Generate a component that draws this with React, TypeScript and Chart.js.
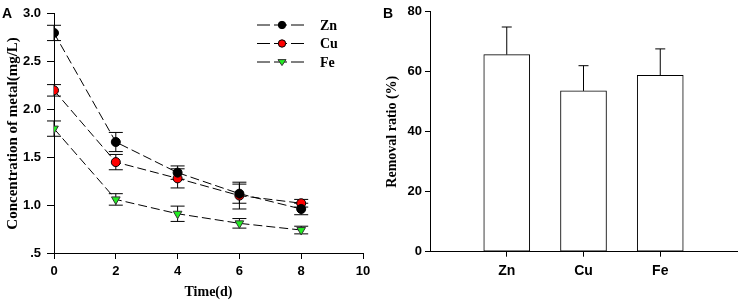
import React, { useEffect, useRef } from "react";
import { Chart, registerables } from "chart.js";

Chart.register(...registerables);

// ---- Panel A data ----
const timeDays = [0, 2, 4, 6, 8];
const znConc = [2.8, 1.66, 1.34, 1.12, 0.96];
const znErr = [0.08, 0.1, 0.07, 0.1, 0.06];
const cuConc = [2.2, 1.45, 1.28, 1.1, 1.02];
const cuErr = [0.06, 0.08, 0.1, 0.14, 0.04];
const feConc = [1.8, 1.06, 0.91, 0.81, 0.74];
const feErr = [0.08, 0.06, 0.08, 0.05, 0.04];
const seriesNames = ["Zn", "Cu", "Fe"];
const yTickLabelsA = [".5", "1.0", "1.5", "2.0", "2.5", "3.0"];

// ---- Panel B data ----
const metalCategories = ["", "Zn", "Cu", "Fe", ""];
const removalRatio = [null, 65.7, 53.6, 58.8, null];
const removalErr = [null, 9.2, 8.4, 8.8, null];

const SANS = "'Liberation Sans', Arial, sans-serif";
const SERIF = "'Liberation Serif', 'Times New Roman', serif";

const lineErrPlugin = {
  id: "lineErr",
  beforeDatasetsDraw(chart: any) {
    const ctx = chart.ctx;
    const xs = chart.scales.x;
    const ys = chart.scales.y;
    ctx.save();
    ctx.strokeStyle = "#000";
    ctx.lineWidth = 1;
    ctx.setLineDash([]);
    chart.data.datasets.forEach((ds: any) => {
      const errs: number[] = ds.errors;
      ds.data.forEach((p: any, i: number) => {
        const x = xs.getPixelForValue(p.x);
        const yT = ys.getPixelForValue(p.y + errs[i]);
        const yB = ys.getPixelForValue(p.y - errs[i]);
        ctx.beginPath();
        ctx.moveTo(x, yT);
        ctx.lineTo(x, yB);
        ctx.moveTo(x - 7, yT);
        ctx.lineTo(x + 7, yT);
        ctx.moveTo(x - 7, yB);
        ctx.lineTo(x + 7, yB);
        ctx.stroke();
      });
    });
    ctx.restore();
  },
  afterDraw(chart: any) {
    const ctx = chart.ctx;
    ctx.save();
    ctx.fillStyle = "#000";
    ctx.font = `bold 14px ${SANS}`;
    ctx.textBaseline = "alphabetic";
    ctx.textAlign = "left";
    ctx.fillText("A", 2, 18);
    // legend
    chart.data.datasets.forEach((ds: any, i: number) => {
      const y = 25 + i * 18.5;
      ctx.strokeStyle = "#000";
      ctx.lineWidth = 1;
      ctx.setLineDash([13, 4]);
      ctx.beginPath();
      ctx.moveTo(257, y);
      ctx.lineTo(304, y);
      ctx.stroke();
      ctx.setLineDash([]);
      ctx.fillStyle = ds.pointBackgroundColor;
      ctx.strokeStyle = ds.pointBorderColor;
      ctx.beginPath();
      if (ds.pointStyle === "triangle") {
        const r = 4;
        ctx.moveTo(282 - r, y - r * 0.6);
        ctx.lineTo(282 + r, y - r * 0.6);
        ctx.lineTo(282, y + r * 0.9);
        ctx.closePath();
      } else {
        ctx.arc(282, y, 3.7, 0, Math.PI * 2);
      }
      ctx.fill();
      ctx.stroke();
      ctx.fillStyle = "#000";
      ctx.font = `bold 14px ${SERIF}`;
      ctx.textBaseline = "middle";
      ctx.fillText(ds.label, 320, y + 1);
    });
    ctx.restore();
  },
};

const barErrPlugin = {
  id: "barErr",
  afterDatasetsDraw(chart: any) {
    const ctx = chart.ctx;
    const ys = chart.scales.y;
    const meta = chart.getDatasetMeta(0);
    const ds = chart.data.datasets[0];
    ctx.save();
    ctx.strokeStyle = "#000";
    ctx.lineWidth = 1;
    meta.data.forEach((el: any, i: number) => {
      const v = ds.data[i];
      if (v == null) return;
      const x = el.x;
      const yT = ys.getPixelForValue(v + ds.errors[i]);
      const yV = ys.getPixelForValue(v);
      ctx.beginPath();
      ctx.moveTo(x, yV);
      ctx.lineTo(x, yT);
      ctx.moveTo(x - 5, yT);
      ctx.lineTo(x + 5, yT);
      ctx.stroke();
    });
    ctx.fillStyle = "#000";
    ctx.font = `bold 14px ${SANS}`;
    ctx.textBaseline = "alphabetic";
    ctx.fillText("B", 3, 18);
    ctx.restore();
  },
};

function toPts(vals: number[]) {
  return vals.map((v, i) => ({ x: timeDays[i], y: v }));
}

export default function App() {
  const refA = useRef<HTMLCanvasElement>(null);
  const refB = useRef<HTMLCanvasElement>(null);

  useEffect(() => {
    const common = {
      borderColor: "#000",
      borderWidth: 1,
      borderDash: [9, 4],
      pointRadius: 4.5,
      pointBorderColor: "#000",
      pointBorderWidth: 1,
      tension: 0,
      showLine: true,
    };
    const chartA = new Chart(refA.current!, {
      type: "scatter",
      data: {
        datasets: [
          { ...common, label: seriesNames[0], data: toPts(znConc), errors: znErr, pointBackgroundColor: "#000", pointStyle: "circle" } as any,
          { ...common, label: seriesNames[1], data: toPts(cuConc), errors: cuErr, pointBackgroundColor: "#ff0000", pointStyle: "circle" } as any,
          { ...common, label: seriesNames[2], data: toPts(feConc), errors: feErr, pointBackgroundColor: "#22ee22", pointBorderColor: "#333", pointStyle: "triangle", rotation: 180, pointRadius: 5 } as any,
        ],
      },
      options: {
        animation: false,
        responsive: false,
        devicePixelRatio: 1,
        layout: { padding: { left: 0, top: 13, right: 17, bottom: 0 } },
        plugins: { legend: { display: false }, tooltip: { enabled: false } },
        scales: {
          x: {
            type: "linear",
            min: 0,
            max: 10,
            ticks: { stepSize: 2, color: "#000", font: { family: SANS, size: 13, weight: "bold" }, padding: 5 },
            grid: { drawOnChartArea: false, drawTicks: true, tickLength: 6, color: "#000" },
            border: { display: true, color: "#000", width: 1 },
            title: { display: true, text: "Time(d)", color: "#000", font: { family: SERIF, size: 14, weight: "bold" }, padding: { top: 2, bottom: 3 } },
            afterFit: (s: any) => { s.height = 51; },
          },
          y: {
            type: "linear",
            min: 0.5,
            max: 3.0,
            ticks: {
              stepSize: 0.5,
              color: "#000",
              font: { family: SANS, size: 13, weight: "bold" },
              padding: 6,
              callback: (_v: any, i: number) => yTickLabelsA[i],
            },
            grid: { drawOnChartArea: false, drawTicks: true, tickLength: 7, color: "#000" },
            border: { display: true, color: "#000", width: 1 },
            title: { display: true, text: "Concentration of metal(mg/L)", color: "#000", font: { family: SERIF, size: 15, weight: "bold" }, padding: { top: 4, bottom: 2 } },
            afterFit: (s: any) => { s.width = 54; },
          },
        },
      } as any,
      plugins: [lineErrPlugin],
    });

    const chartB = new Chart(refB.current!, {
      type: "bar",
      data: {
        labels: metalCategories,
        datasets: [
          {
            data: removalRatio,
            errors: removalErr,
            backgroundColor: "#fff",
            borderColor: "#000",
            borderWidth: 1,
            borderSkipped: false,
            barThickness: 46,
          } as any,
        ],
      },
      options: {
        animation: false,
        responsive: false,
        devicePixelRatio: 1,
        layout: { padding: { left: 0, top: 11.7, right: 5, bottom: 0 } },
        plugins: { legend: { display: false }, tooltip: { enabled: false } },
        scales: {
          x: {
            type: "category",
            offset: false,
            ticks: { color: "#000", font: { family: SANS, size: 14, weight: "bold" }, padding: 6, maxRotation: 0, autoSkip: false },
            grid: {
              offset: false,
              drawOnChartArea: false,
              drawTicks: true,
              tickLength: 5,
              tickColor: (c: any) => (metalCategories[c.index] ? "#000" : "rgba(0,0,0,0)"),
            },
            border: { display: true, color: "#000", width: 1 },
            afterFit: (s: any) => { s.height = 52.3; },
          },
          y: {
            type: "linear",
            min: 0,
            max: 80,
            ticks: { stepSize: 20, color: "#000", font: { family: SANS, size: 13, weight: "bold" }, padding: 3 },
            grid: { drawOnChartArea: false, drawTicks: true, tickLength: 5, color: "#000" },
            border: { display: true, color: "#000", width: 1 },
            title: { display: true, text: "Removal ratio (%)", color: "#000", font: { family: SERIF, size: 14, weight: "bold" }, padding: { top: 4, bottom: 2 } },
            afterFit: (s: any) => { s.width = 50; },
          },
        },
      } as any,
      plugins: [barErrPlugin],
    });

    return () => {
      chartA.destroy();
      chartB.destroy();
    };
  }, []);

  return (
    <div style={{ position: "absolute", left: 0, top: 0, width: 743, height: 304, background: "#fff" }}>
      <canvas ref={refA} width={380} height={304} style={{ position: "absolute", left: 0, top: 0, width: 380, height: 304 }} />
      <canvas ref={refB} width={363} height={304} style={{ position: "absolute", left: 380, top: 0, width: 363, height: 304 }} />
    </div>
  );
}
